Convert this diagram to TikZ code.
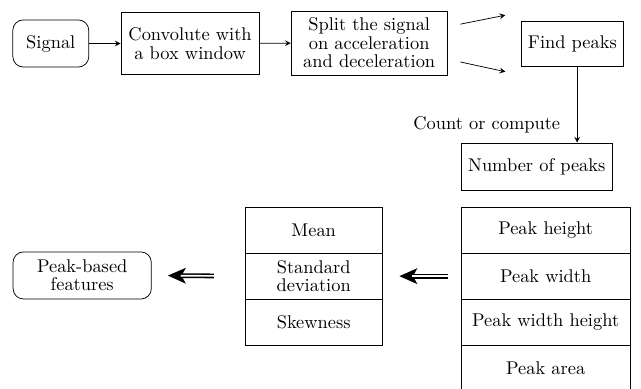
\documentclass[tikz,border=0pt]{standalone}
\usepackage{amsmath}
\usepackage{amssymb}
\usetikzlibrary{arrows.meta}

\begin{document}
\begin{tikzpicture}[
	>=stealth,
	box/.style={shape=rectangle,draw=black,align=center,font=\fontsize{10}{10}\selectfont},
	rbox/.style={box,rounded corners=2mm},
	cell/.style={box,minimum height=0.88cm},
	tipline/.style={line width=0.85pt,-{Stealth[length=3.4mm,width=3mm,inset=0.8mm]}},
	dline/.style={line width=0.85pt,double,double distance=0.9pt}
	]
	
	\useasboundingbox (0,0) rectangle (12.24,7.41);
	
	% first row
	\node[rbox,minimum width=1.45cm,minimum height=0.9cm] (signal) at (0.97, 6.58) {Signal};
	\node[box,minimum width=2.64cm,minimum height=1.17cm] (conv) at (3.63, 6.58) {Convolute with\\a box window};
	\node[box,minimum width=2.98cm,minimum height=1.22cm] (split) at (7.05, 6.59) {Split the signal\\on acceleration\\and deceleration};
	\node[box,minimum width=1.89cm,minimum height=0.86cm] (find) at (10.93, 6.58) {Find peaks};
	
	\coordinate (accel) at (9.65, 7.12);
	\coordinate (decel) at (9.65, 6.04);
	
	\node[box,minimum width=2.88cm,minimum height=0.9cm] (num) at (10.25, 4.23) {Number of peaks};
	
	% peak measures
	\node[cell,minimum width=3.23cm] (height) at (10.42, 3.017) {Peak height};
	\node[cell,minimum width=3.23cm] (width) at (10.42, 2.137) {Peak width};
	\node[cell,minimum width=3.23cm] (wheight) at (10.42, 1.257) {Peak width height};
	\node[cell,minimum width=3.23cm] (area) at (10.42, 0.377) {Peak area};
	
	% statistics
	\node[cell,minimum width=2.62cm] (mean) at (5.99, 3.017) {Mean};
	\node[cell,minimum width=2.62cm] (std) at (5.99, 2.137) {Standard\\deviation};
	\node[cell,minimum width=2.62cm] (skew) at (5.99, 1.257) {Skewness};
	
	\node[rbox,minimum width=2.64cm,minimum height=0.9cm] (feat) at (1.57, 2.15) {Peak-based\\features};
	
	
	\path[->] (signal) edge (conv);
	\path[->] (conv) edge (split);
	\draw[->, shorten <=0.25cm] ([yshift=0.31cm]split.east) -- (accel);
	\draw[->, shorten <=0.25cm] ([yshift=-0.31cm]split.east) -- (decel);
	
	\draw[->] ([xshift=0.09cm]find.south) -- ([xshift=0.09cm]find.south |- num.north)
		node[pos=0.77, left=0.2cm] {Count or compute};
	
	% double arrows: tip first, double line over it
	\draw[tipline, shorten <=0.25cm, shorten >=0.32cm] (width.west) -- (std.east);
	\draw[dline, shorten <=0.25cm, shorten >=0.56cm] (width.west) -- (std.east);
	\draw[tipline, shorten <=0.59cm, shorten >=0.31cm] (std.west) -- (feat.east);
	\draw[dline, shorten <=0.59cm, shorten >=0.55cm] (std.west) -- (feat.east);
	
\end{tikzpicture}
\end{document}
